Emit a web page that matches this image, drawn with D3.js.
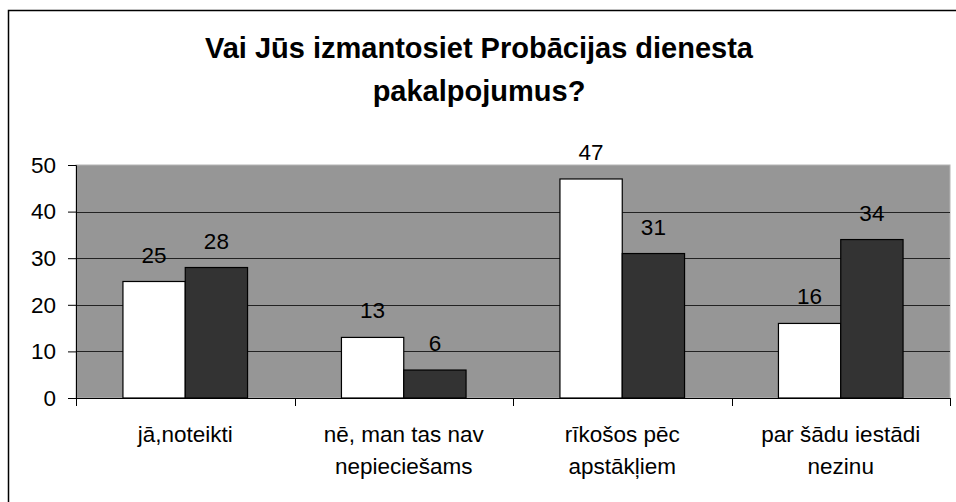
<!DOCTYPE html>
<html>
<head>
<meta charset="utf-8">
<script src="https://cdn.jsdelivr.net/npm/d3@7"></script>
<style>
  html, body { margin: 0; padding: 0; background: #fff; }
  svg { display: block; font-family: Arial, "Liberation Sans", sans-serif; }
</style>
</head>
<body>
<svg id="chart" width="956" height="502"></svg>
<script>
// data
const categories = [["jā,noteikti"], ["nē, man tas nav", "nepieciešams"], ["rīkošos pēc", "apstākļiem"], ["par šādu iestādi", "nezinu"]];
const seriesA = [25, 13, 47, 16];
const seriesB = [28, 6, 31, 34];
const yTicks = [0, 10, 20, 30, 40, 50];
const titleLines = ["Vai Jūs izmantosiet Probācijas dienesta", "pakalpojumus?"];

const svg = d3.select("#chart");
const W = 956, H = 502;
const plot = { left: 76, right: 950, top: 165, bottom: 398 };
const fs = 22.5;

// outer chart frame (runs off right/bottom edge)
svg.append("rect")
  .attr("x", 8.5).attr("y", 10.5)
  .attr("width", W + 20).attr("height", H + 20)
  .attr("fill", "#fff").attr("stroke", "#000").attr("stroke-width", 1.5);

// title
svg.append("g").selectAll("text").data(titleLines).join("text")
  .attr("x", 479).attr("y", (d, i) => 58 + i * 43)
  .attr("text-anchor", "middle")
  .attr("font-size", 29).attr("font-weight", "bold")
  .text(d => d);

const x0 = d3.scaleBand().domain(d3.range(categories.length)).range([plot.left, plot.right]);
const groupW = 124.6;
const x1 = d3.scaleBand().domain([0, 1]).range([0, groupW]);
const y = d3.scaleLinear().domain([0, 50]).range([plot.bottom, plot.top]);

// plot area
svg.append("rect")
  .attr("x", plot.left).attr("y", plot.top)
  .attr("width", plot.right - plot.left).attr("height", plot.bottom - plot.top)
  .attr("fill", "#969696").attr("stroke", "#b4b4b4").attr("stroke-width", 1);

// gridlines
svg.append("g").selectAll("line").data(yTicks.filter(t => t > 0 && t < 50)).join("line")
  .attr("x1", plot.left).attr("x2", plot.right)
  .attr("y1", d => Math.round(y(d)) + 0.5).attr("y2", d => Math.round(y(d)) + 0.5)
  .attr("stroke", "#222").attr("stroke-width", 1);

// bars
const rows = categories.map((c, i) => ({ i, vals: [seriesA[i], seriesB[i]] }));
const grp = svg.append("g").selectAll("g").data(rows).join("g")
  .attr("transform", d => `translate(${x0(d.i) + (x0.bandwidth() - groupW) / 2},0)`);
grp.selectAll("rect").data(d => d.vals.map((v, k) => ({ v, k }))).join("rect")
  .attr("x", d => x1(d.k)).attr("width", x1.bandwidth())
  .attr("y", d => y(d.v)).attr("height", d => y(0) - y(d.v))
  .attr("fill", d => d.k === 0 ? "#fff" : "#333")
  .attr("stroke", "#000").attr("stroke-width", 1.2);
grp.selectAll("text").data(d => d.vals.map((v, k) => ({ v, k }))).join("text")
  .attr("x", d => x1(d.k) + x1.bandwidth() / 2)
  .attr("y", d => y(d.v) - 19)
  .attr("text-anchor", "middle").attr("font-size", fs)
  .text(d => d.v);

// y axis
const yAxis = d3.axisLeft(y).tickValues(yTicks).tickSize(8).tickPadding(12);
const gy = svg.append("g").attr("transform", `translate(${plot.left},0)`).call(yAxis);
gy.select(".domain").attr("stroke", "#000");
gy.selectAll(".tick line").attr("stroke", "#000");
gy.selectAll("text").attr("font-size", fs).attr("font-family", "Arial, 'Liberation Sans', sans-serif").attr("fill", "#000");

// x axis
const xAxis = d3.axisBottom(x0).tickSize(0).tickFormat(() => "");
const gx = svg.append("g").attr("transform", `translate(0,${plot.bottom})`).call(xAxis);
gx.select(".domain").attr("stroke", "#000").attr("d", `M${plot.left},0.5H${plot.right}`);
svg.append("g").selectAll("line").data(d3.range(categories.length + 1)).join("line")
  .attr("x1", d => Math.round(plot.left + d * x0.bandwidth()) + 0.5)
  .attr("x2", d => Math.round(plot.left + d * x0.bandwidth()) + 0.5)
  .attr("y1", plot.bottom).attr("y2", plot.bottom + 8)
  .attr("stroke", "#000");

// category labels
const lbl = svg.append("g").selectAll("text").data(categories).join("text")
  .attr("text-anchor", "middle").attr("font-size", fs)
  .attr("x", (d, i) => x0(i) + x0.bandwidth() / 2);
lbl.selectAll("tspan").data(d => d).join("tspan")
  .attr("x", function () { return d3.select(this.parentNode).attr("x"); })
  .attr("y", (d, j) => 442 + j * 31.5)
  .text(d => d);
</script>
</body>
</html>
